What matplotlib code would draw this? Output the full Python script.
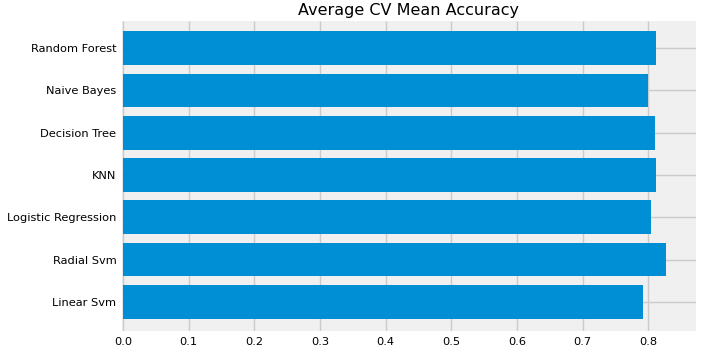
import matplotlib
matplotlib.use("Agg")
import matplotlib.pyplot as plt

# values
models = ['Linear Svm', 'Radial Svm', 'Logistic Regression', 'KNN',
          'Decision Tree', 'Naive Bayes', 'Random Forest']
cv_mean = [0.7924, 0.8270, 0.8046, 0.8110, 0.8100, 0.7996, 0.8110]

plt.style.use('fivethirtyeight')

fig = plt.figure(figsize=(7.04, 3.54), dpi=100)
fig.patch.set_facecolor('white')
ax = fig.add_axes([0.1733, 0.065, 0.815, 0.8766])

ax.barh(models, cv_mean, height=0.8, color='#008fd5')
ax.set_xlim(-0.0015, 0.872)
ax.set_ylim(-0.69, 6.65)
ax.set_title('Average CV Mean Accuracy', fontsize=11.5, pad=4)
ax.tick_params(axis='both', labelsize=8.2, length=0, pad=4)
ax.set_facecolor('#f0f0f0')
ax.grid(True, color='#cbcbcb', linewidth=1)
ax.set_axisbelow(True)
for s in ax.spines.values():
    s.set_visible(False)

fig.savefig('out.png', dpi=100, facecolor='white')
